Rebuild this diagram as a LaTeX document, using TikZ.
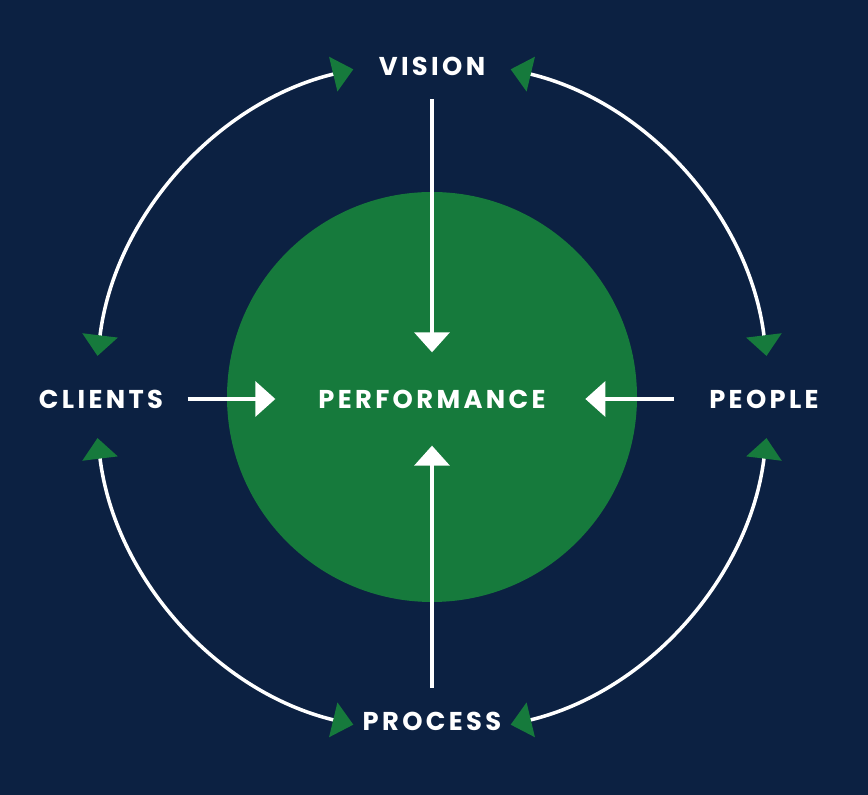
\documentclass[tikz,border=0pt]{standalone}
\usepackage{fontspec}
\setmainfont{Poppins}
\newfontfamily\wordfont{Poppins}[LetterSpace=13]
\usetikzlibrary{arrows.meta,calc}
\definecolor{navy}{RGB}{12,33,66}
\definecolor{leafgreen}{RGB}{22,122,60}

\begin{document}
\begin{tikzpicture}[x=0.03cm,y=0.03cm,
  word/.style={text=white,inner sep=0pt,font=\wordfont\bfseries\fontsize{22}{26}\selectfont},
  feed/.style={-{Triangle[length=0.6cm,width=1.05cm]},line width=3pt,white},
  cycle/.style={{Triangle[length=0.62cm,width=1.05cm,color=leafgreen,fill=leafgreen]}-{Triangle[length=0.62cm,width=1.05cm,color=leafgreen,fill=leafgreen]},line width=3pt,white}]
  % Background
  \fill[navy] (0,0) rectangle (868,795);
  % Centre disc
  \coordinate (hub) at (432,398);
  \fill[leafgreen] (hub) circle (205);
  % Labels
  \node[word] (perf) at (432,396) {PERFORMANCE};
  \node[word] (vision) at (432,729) {VISION};
  \node[word] (process) at (432,74) {PROCESS};
  \node[word] (clients) at (101,396) {CLIENTS};
  \node[word] (people) at (764,396) {PEOPLE};
  % Inward arrows
  \draw[feed,shorten <=1.0cm,shorten >=1.4cm] (vision.center) -- (perf.center);
  \draw[feed,shorten <=1.0cm,shorten >=1.4cm] (process.center) -- (perf.center);
  \draw[feed,shorten <=2.6cm,shorten >=4.7cm] (clients.center) -- (perf.center);
  \draw[feed,shorten <=2.7cm,shorten >=4.6cm] (people.center) -- (perf.center);
  % Ring end points
  \coordinate (cl-top) at ($(hub)+(173:337)$);
  \coordinate (cl-bot) at ($(hub)+(187:337)$);
  \coordinate (pe-top) at ($(hub)+(7:337)$);
  \coordinate (pe-bot) at ($(hub)+(-7:337)$);
  % Outer ring arcs
  \draw[cycle] (cl-top) arc[start angle=173,end angle=103.5,radius=337];
  \draw[cycle] (pe-top) arc[start angle=7,end angle=76.5,radius=337];
  \draw[cycle] (cl-bot) arc[start angle=187,end angle=256.5,radius=337];
  \draw[cycle] (pe-bot) arc[start angle=-7,end angle=-76.5,radius=337];
\end{tikzpicture}
\end{document}
